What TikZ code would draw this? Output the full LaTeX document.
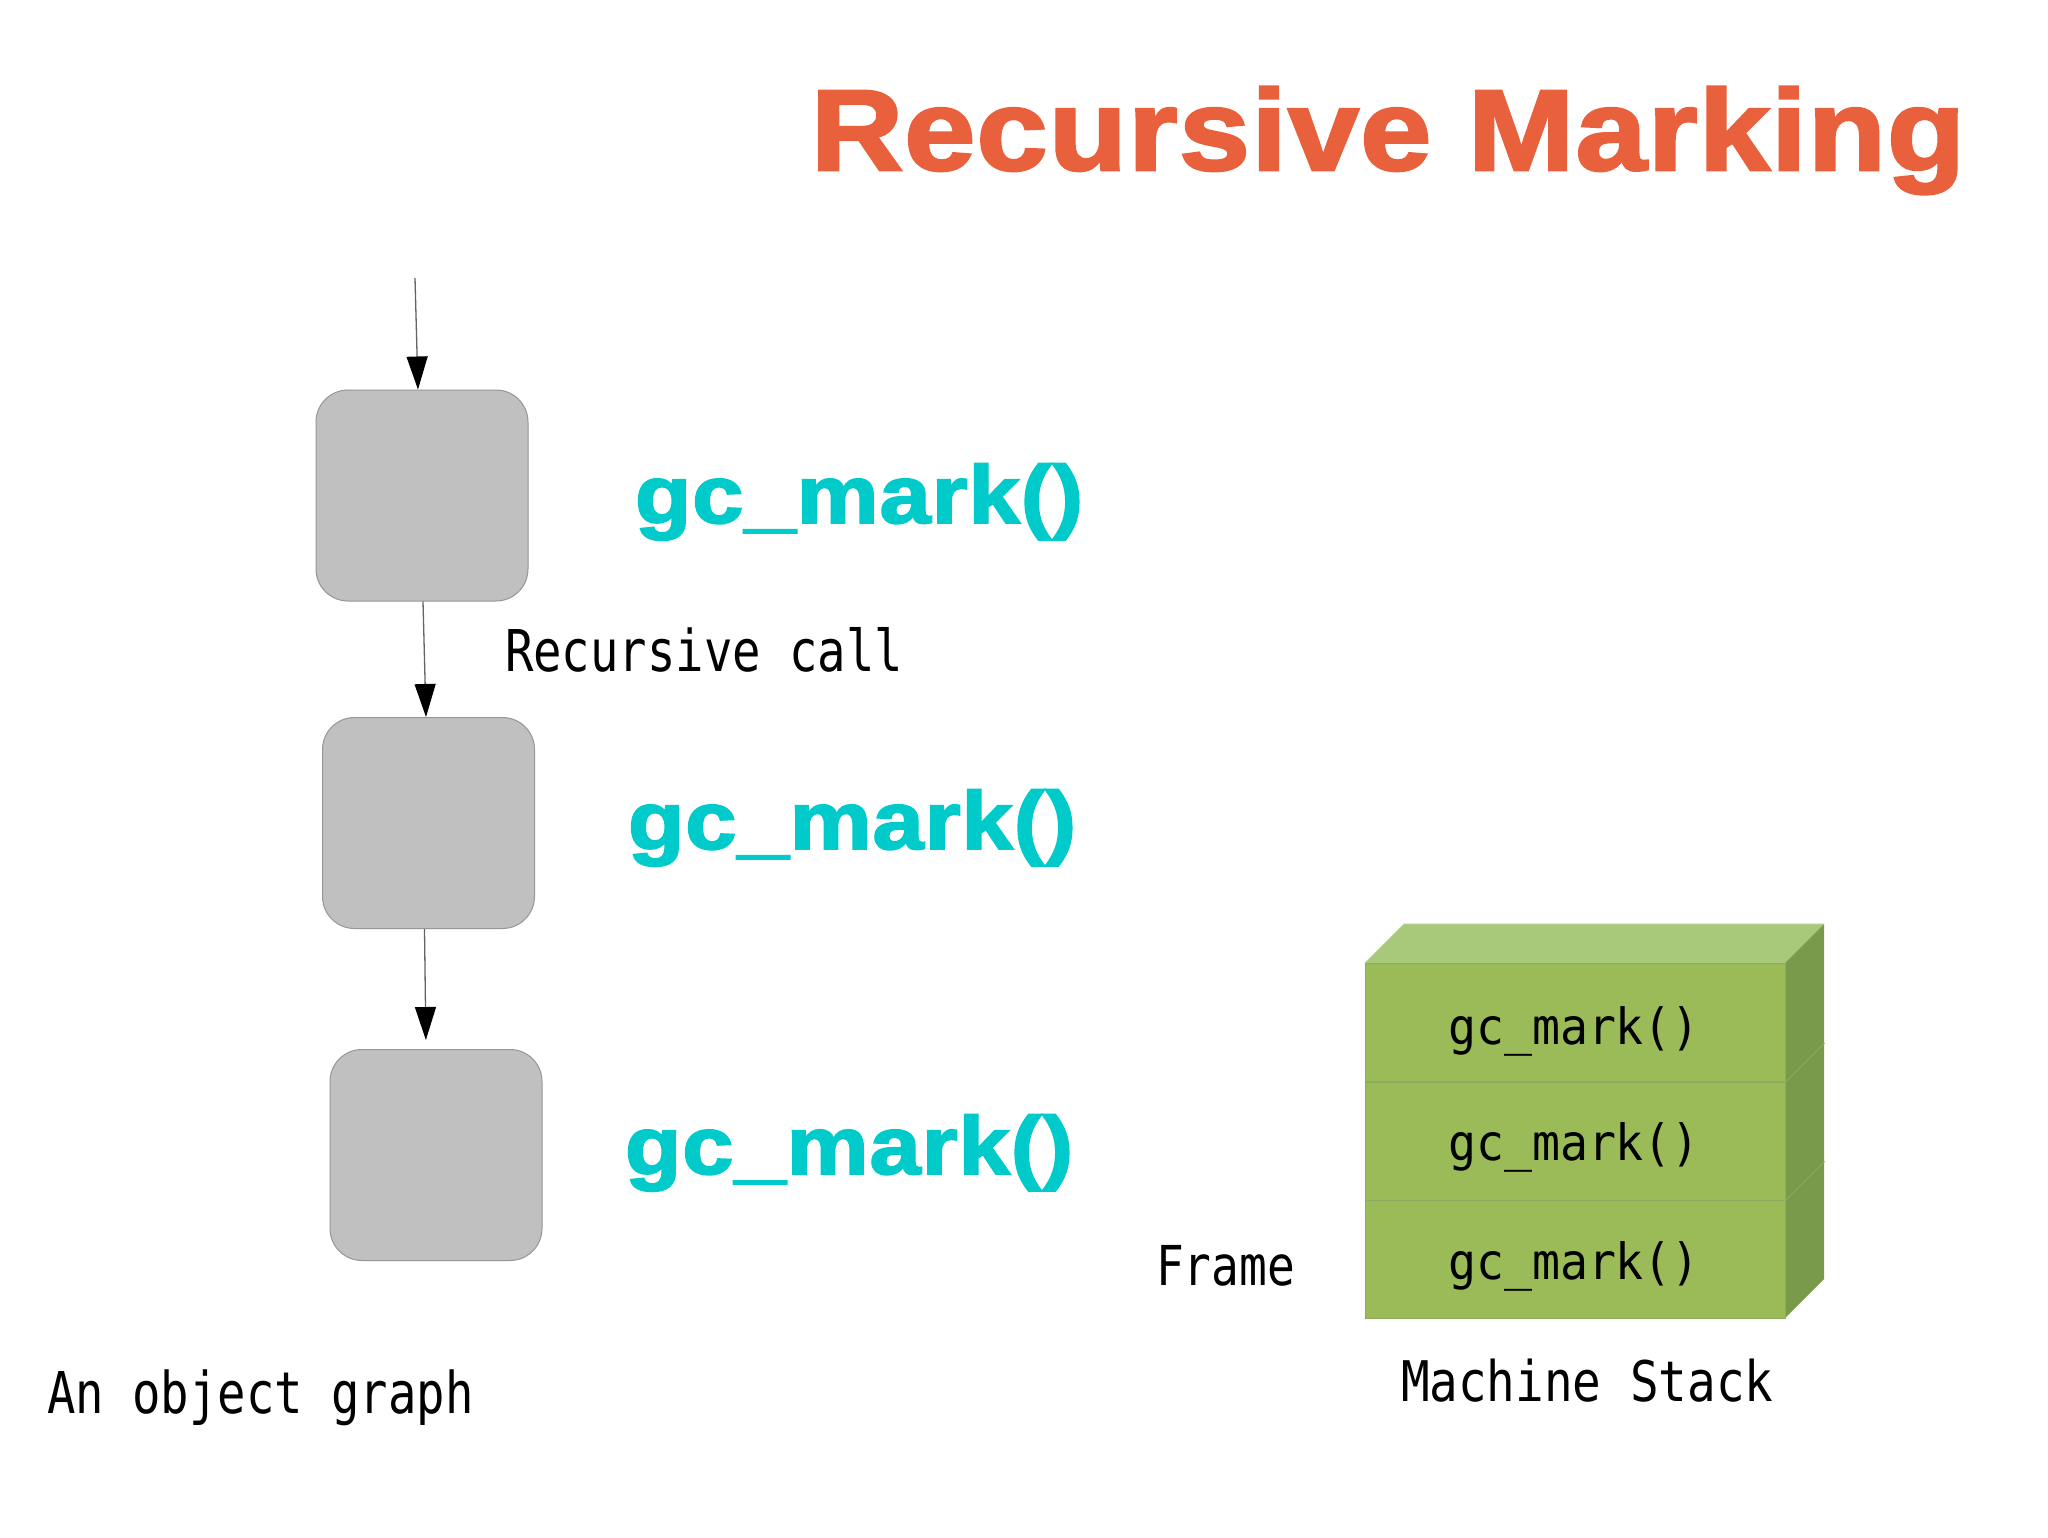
\documentclass[tikz,border=0pt]{standalone}
\usepackage{fontspec}
\usepackage{graphicx}
\usetikzlibrary{arrows.meta}
\newfontfamily\sansbold{Liberation Sans Bold}[FakeBold=2.2,LetterSpace=1]
\newfontfamily\monof{DejaVu Sans Mono}
\definecolor{titleorange}{RGB}{232,96,60}
\definecolor{markcyan}{RGB}{0,202,202}
\definecolor{boxfill}{RGB}{192,192,192}
\definecolor{boxedge}{RGB}{150,150,150}
\definecolor{linegray}{RGB}{100,100,100}
\definecolor{stackfront}{RGB}{155,187,89}
\definecolor{stacktop}{RGB}{168,201,122}
\definecolor{stackside}{RGB}{120,154,74}
\definecolor{stackline}{RGB}{140,172,96}
\newcommand{\monotext}[3]{\scalebox{#2}[1]{\monof\fontsize{#1}{#1}\selectfont #3}}
\newcommand{\boldtext}[3]{\scalebox{#2}[1]{\sansbold\fontsize{#1}{#1}\selectfont #3}}
\tikzset{
  objbox/.style={draw=boxedge, fill=boxfill, line width=1pt, rounded corners=32pt,
    minimum width=212pt, minimum height=211pt, inner sep=0pt},
  callarrow/.style={draw=linegray, line width=1.3pt,
    -{Triangle[length=33pt,width=21pt,color=black]}},
  txt/.style={inner sep=0pt, outer sep=0pt, anchor=base west},
  ctxt/.style={inner sep=0pt, outer sep=0pt, anchor=base},
  frameslot/.style={fill=stackfront, draw=stackline, line width=1pt, inner sep=0pt,
    minimum width=420pt, minimum height=118pt},
}
\begin{document}
\begin{tikzpicture}[x=1pt,y=-1pt]
\useasboundingbox[fill=white] (0,0) rectangle (2048,1537);

% title
\node[txt, text=titleorange] (title) at (811,170) {\boldtext{115}{1.11}{Recursive Marking}};

% object graph
\node[objbox] (box1) at (422,495.5) {};
\node[objbox] (box2) at (428.5,823) {};
\node[objbox] (box3) at (436,1155) {};
\coordinate (entry) at (415,278);
\draw[callarrow] (entry) -- ([xshift=-4pt]box1.north);
\draw[callarrow] ([xshift=1pt]box1.south) -- ([xshift=-2.5pt]box2.north);
\draw[callarrow, shorten >=9pt] ([xshift=-4pt]box2.south) -- ([xshift=-10pt]box3.north);

% big labels
\node[txt, text=markcyan] (mark1) at (635,523) {\boldtext{82}{1.125}{gc\_mark()}};
\node[txt, text=markcyan] (mark2) at (628,849) {\boldtext{82}{1.125}{gc\_mark()}};
\node[txt, text=markcyan] (mark3) at (625,1174) {\boldtext{82}{1.125}{gc\_mark()}};

\node[txt] (reccall) at (505,671) {\monotext{57.6}{0.82}{Recursive call}};
\node[txt] (objgraph) at (47,1413) {\monotext{57.6}{0.82}{An object graph}};

% machine stack
\fill[stacktop] (1365,963) -- (1404,924) -- (1824,924) -- (1785,963) -- cycle;
\fill[stackside] (1785,963) -- (1824,924) -- (1824,1279) -- (1785,1318) -- cycle;
\node[frameslot] (slot1) at (1575,1022.5) {};
\node[frameslot] (slot2) at (1575,1141) {};
\node[frameslot] (slot3) at (1575,1259) {};
\draw[stacktop!80!white, line width=0.8pt] (1365,963) -- (1404,924) -- (1824,924);
\draw[stackside!85!white, line width=0.8pt] (slot1.south east) -- ++(39,-39);
\draw[stackside!85!white, line width=0.8pt] (slot2.south east) -- ++(39,-39);

\node[ctxt] (s1) at (1574,1044) {\monotext{50}{0.93}{gc\_mark()}};
\node[ctxt] (s2) at (1574,1160) {\monotext{50}{0.93}{gc\_mark()}};
\node[ctxt] (s3) at (1574,1279) {\monotext{50}{0.93}{gc\_mark()}};

\node[txt] (frame) at (1156,1285) {\monotext{55}{0.84}{Frame}};
\node[txt] (mstack) at (1401,1401) {\monotext{56}{0.85}{Machine Stack}};
\end{tikzpicture}
\end{document}
